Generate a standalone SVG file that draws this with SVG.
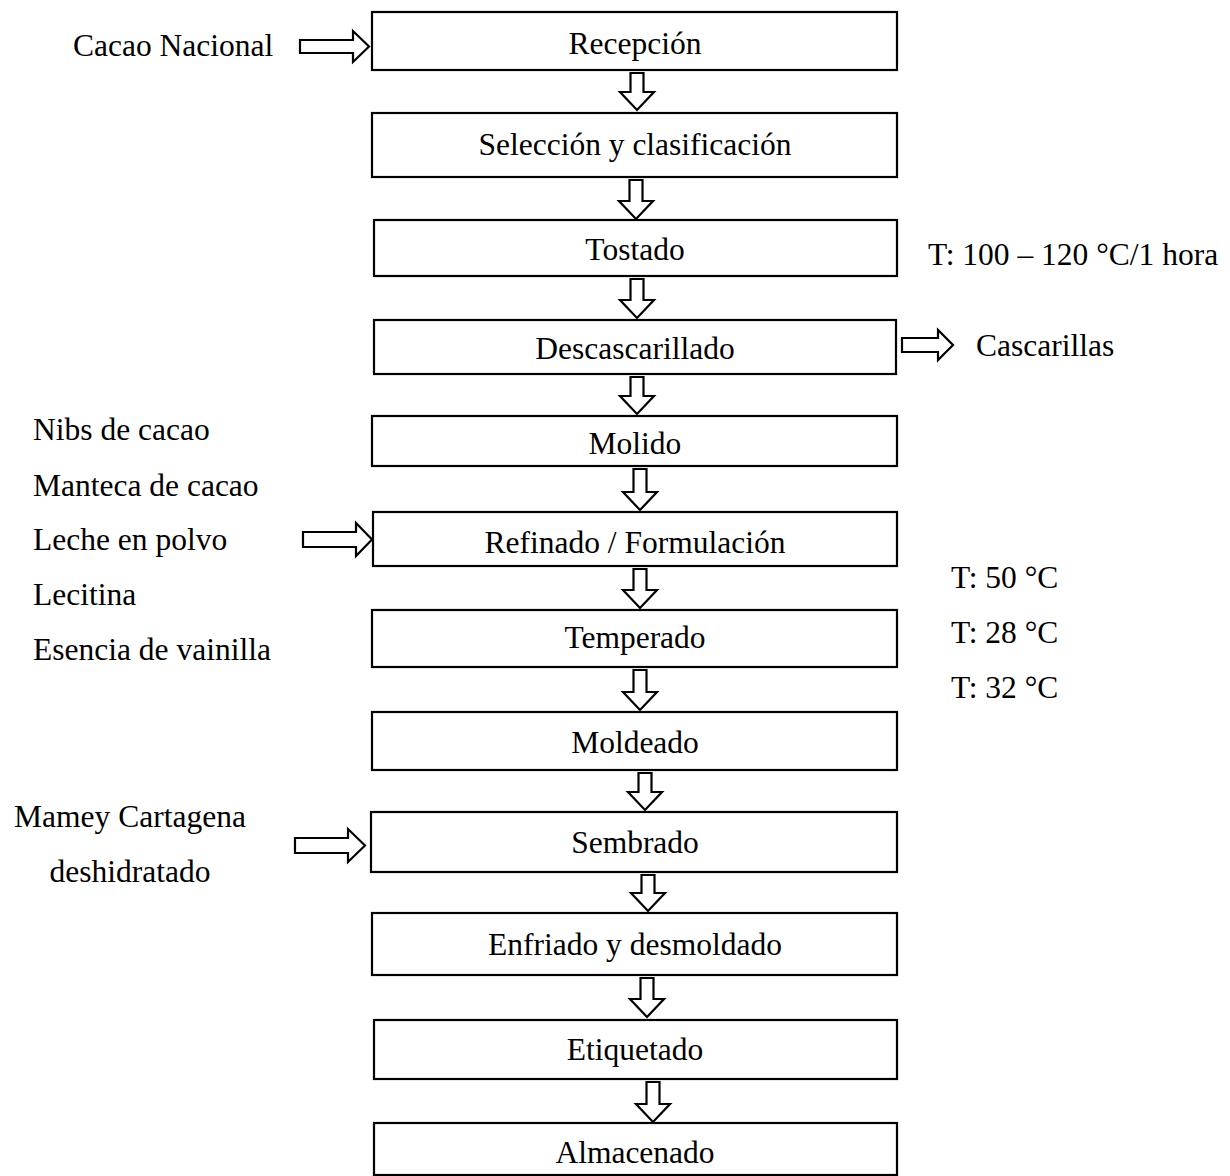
<svg xmlns="http://www.w3.org/2000/svg" width="1230" height="1176" viewBox="0 0 1230 1176">
<style>
.box{fill:#fff;stroke:#000;stroke-width:2.2}
.arr{fill:#fff;stroke:#000;stroke-width:2.2;stroke-linejoin:miter}
text{font-family:"Liberation Serif","Times New Roman",serif;font-size:31.5px;fill:#000}
.c{text-anchor:middle}
</style>
<rect width="1230" height="1176" fill="#fff"/>
<g id="n1"><rect class="box" x="372" y="12" width="525" height="58"/><text class="c" x="635" y="54">Recepción</text></g>
<g id="n2"><rect class="box" x="372" y="113" width="525" height="64"/><text class="c" x="635" y="155">Selección y clasificación</text></g>
<g id="n3"><rect class="box" x="374" y="220" width="523" height="56"/><text class="c" x="635" y="260">Tostado</text></g>
<g id="n4"><rect class="box" x="374" y="320" width="522" height="54"/><text class="c" x="635" y="359">Descascarillado</text></g>
<g id="n5"><rect class="box" x="372" y="416" width="525" height="50"/><text class="c" x="635" y="454">Molido</text></g>
<g id="n6"><rect class="box" x="373" y="512" width="524" height="54"/><text class="c" x="635" y="553">Refinado / Formulación</text></g>
<g id="n7"><rect class="box" x="372" y="610" width="525" height="57"/><text class="c" x="635" y="648">Temperado</text></g>
<g id="n8"><rect class="box" x="372" y="712" width="525" height="58"/><text class="c" x="635" y="753">Moldeado</text></g>
<g id="n9"><rect class="box" x="371" y="812" width="526" height="60"/><text class="c" x="635" y="853">Sembrado</text></g>
<g id="n10"><rect class="box" x="372" y="913" width="525" height="62"/><text class="c" x="635" y="955">Enfriado y desmoldado</text></g>
<g id="n11"><rect class="box" x="374" y="1020" width="523" height="59"/><text class="c" x="635" y="1060">Etiquetado</text></g>
<g id="n12"><rect class="box" x="374" y="1123" width="523" height="52"/><text class="c" x="635" y="1163">Almacenado</text></g>
<g id="inputs">
<text x="73" y="56">Cacao Nacional</text>
<text x="33" y="440">Nibs de cacao</text>
<text x="33" y="496">Manteca de cacao</text>
<text x="33" y="550">Leche en polvo</text>
<text x="33" y="605">Lecitina</text>
<text x="33" y="660">Esencia de vainilla</text>
<text class="c" x="130" y="827">Mamey Cartagena</text>
<text class="c" x="130" y="882">deshidratado</text>
</g>
<g id="outputs">
<text x="976" y="356">Cascarillas</text>
<text x="928" y="265">T: 100 – 120 °C/1 hora</text>
<text x="951" y="588">T: 50 °C</text>
<text x="951" y="643">T: 28 °C</text>
<text x="951" y="698">T: 32 °C</text>
</g>
<g id="connectors">
<path class="arr" d="M630.5,73 H643.5 V92 H654 L637,110 L620,92 H630.5 Z"/>
<path class="arr" d="M629.5,180 H642.5 V201 H653 L636,219 L619,201 H629.5 Z"/>
<path class="arr" d="M630.5,279 H643.5 V300 H654 L637,318 L620,300 H630.5 Z"/>
<path class="arr" d="M630.5,377 H643.5 V396 H654 L637,414 L620,396 H630.5 Z"/>
<path class="arr" d="M633.5,469 H646.5 V492 H657 L640,510 L623,492 H633.5 Z"/>
<path class="arr" d="M633.5,569 H646.5 V590 H657 L640,608 L623,590 H633.5 Z"/>
<path class="arr" d="M633.5,670 H646.5 V692 H657 L640,710 L623,692 H633.5 Z"/>
<path class="arr" d="M638.5,773 H651.5 V792 H662 L645,810 L628,792 H638.5 Z"/>
<path class="arr" d="M641.5,875 H654.5 V893 H665 L648,911 L631,893 H641.5 Z"/>
<path class="arr" d="M640.5,978 H653.5 V999 H664 L647,1017 L630,999 H640.5 Z"/>
<path class="arr" d="M646.5,1082 H659.5 V1104 H670 L653,1122 L636,1104 H646.5 Z"/>
<path class="arr" d="M300,40 H353 V31 L369,46.5 L353,62 V53 H300 Z"/>
<path class="arr" d="M303,532 H356 V523 L372,539.5 L356,556 V547 H303 Z"/>
<path class="arr" d="M295,838 H348 V829 L365,845.5 L348,862 V853 H295 Z"/>
<path class="arr" d="M902,338 H938 V330 L953,345 L938,360 V352 H902 Z"/>
</g>
</svg>
